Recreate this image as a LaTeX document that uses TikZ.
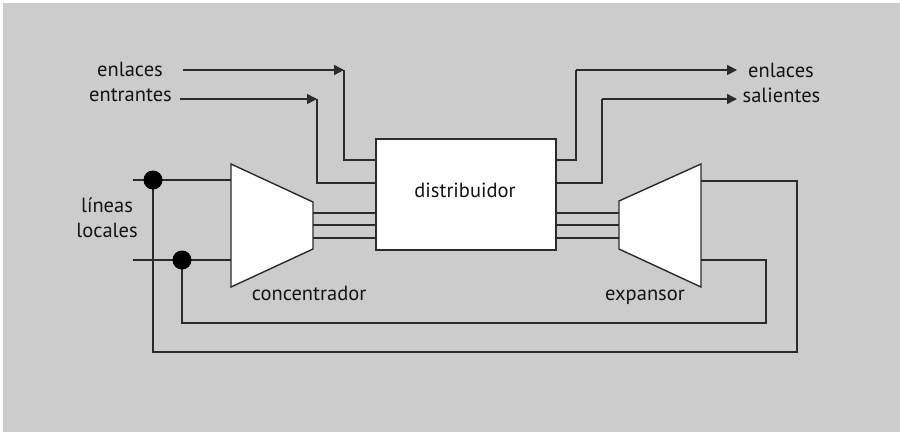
\documentclass[tikz,border=0pt]{standalone}
\usepackage{fontspec}
\setmainfont{PT Sans}
\usetikzlibrary{arrows.meta,calc}
\definecolor{bgc}{HTML}{CCCCCC}
\definecolor{linec}{HTML}{2B2B2B}
\definecolor{textc}{HTML}{141414}
\begin{document}
\begin{tikzpicture}[x=1pt,y=-1pt,
  wire/.style={draw=linec, line width=1.4pt},
  arr/.style={wire, -{Triangle[length=10pt,width=10pt]}},
  lbl/.style={font=\fontsize{20.5}{24}\selectfont, text=textc, inner sep=0pt, anchor=base},
  jdot/.style={circle, fill=black, minimum size=19pt, inner sep=0pt},
  unit/.style={draw=linec, line width=1.4pt, fill=white, line join=miter},
  dbox/.style={unit, rectangle, minimum width=180pt, minimum height=111pt, inner sep=0pt}]
\useasboundingbox (0,0) rectangle (900,432);
\fill[white] (0,0) rectangle (900,432);
\fill[bgc] (3,3) rectangle (900,432);

% labels
\node[lbl] (inA) at (130,76) {enlaces};
\node[lbl] (inB) at (130.5,101) {entrantes};
\node[lbl] (outA) at (781,77) {enlaces};
\node[lbl] (outB) at (781.5,102) {salientes};
\node[lbl] (locA) at (107,212) {líneas};
\node[lbl] (locB) at (107,237) {locales};

% distributor
\node[dbox] (dist) at (466,194.5) {};
\node[lbl] (distl) at (465,197) {distribuidor};

% concentrator and expander
\draw[unit] (231,164) coordinate (cTL) -- (313,202) -- (313,249) -- (231,287) coordinate (cBL) -- cycle;
\node[lbl] (conl) at (309,300) {concentrador};
\draw[unit] (619,201) -- (701,164) coordinate (eTR) -- (701,287) coordinate (eBR) -- (619,249) -- cycle;
\node[lbl] (expl) at (645,300) {expansor};

% coordinates
\coordinate (a1s) at (183,70);  \coordinate (a1t) at (344,70);
\coordinate (a2s) at (180,99);  \coordinate (a2t) at (317,99);
\coordinate (d1) at (376,160);  \coordinate (d2) at (376,183);
\coordinate (o1) at (556,160);  \coordinate (o2) at (556,183);
\coordinate (o1k) at (576,70);  \coordinate (o2k) at (602,99);
\coordinate (o1t) at (737,70);  \coordinate (o2t) at (737,99);
\coordinate (j1) at (153,180);  \coordinate (j2) at (182,260);
\coordinate (l1s) at (133,180); \coordinate (l2s) at (133,260);
\coordinate (c1) at (231,180);  \coordinate (c2) at (231,260);
\coordinate (e1) at (701,181);  \coordinate (e2) at (701,260);
\coordinate (r1) at (797,352);  \coordinate (r2) at (766,323);

% incoming links
\draw[arr] (a1s) -- (a1t);
\draw[wire] (a1t) |- (d1);
\draw[arr] (a2s) -- (a2t);
\draw[wire] (a2t) |- (d2);

% outgoing links
\draw[wire] (o1) -| (o1k);
\draw[arr] (o1k) -- (o1t);
\draw[wire] (o2) -| (o2k);
\draw[arr] (o2k) -- (o2t);

% bundles
\foreach \yy in {213,225,238} {
  \draw[wire] (313,\yy) -- (dist.west |- 0,\yy);
  \draw[wire] (dist.east |- 0,\yy) -- (619,\yy);
}

% local lines
\draw[wire] (l1s) -- (c1);
\draw[wire] (l2s) -- (c2);
\draw[wire] (j1) |- (r1) |- (e1);
\draw[wire] (j2) |- (r2) |- (e2);
\node[jdot] at (j1) {};
\node[jdot] at (j2) {};
\end{tikzpicture}
\end{document}
